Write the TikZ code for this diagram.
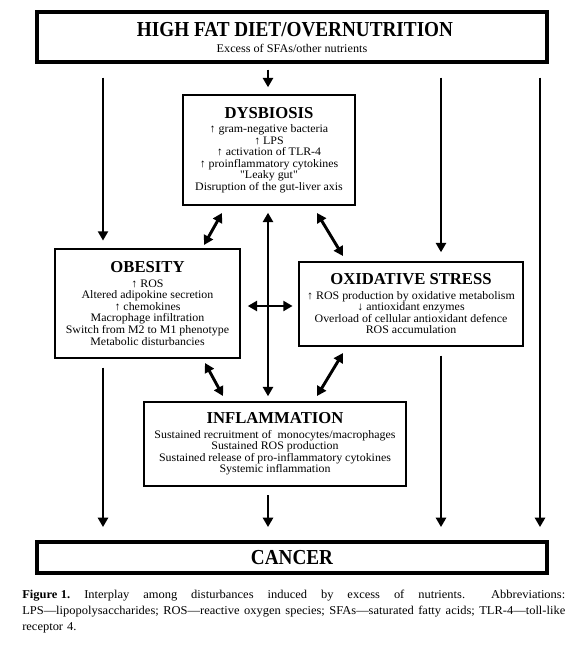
\documentclass[tikz,border=0pt]{standalone}
\usepackage{fontspec}
\setmainfont{Liberation Serif}
\newfontfamily\bodyf{Liberation Serif}[FakeStretch=1.04]
\newfontfamily\titlef{Liberation Serif}[FakeStretch=0.9]
\usetikzlibrary{arrows.meta}
\begin{document}
\begin{tikzpicture}[x=0.75pt,y=-0.75pt,
  bigbox/.style={draw,line width=2.4pt,inner sep=0pt},
  box/.style={draw,line width=1.6pt,inner sep=0pt,align=center,font=\bodyf\fontsize{8.6}{8.7}\selectfont},
  arr/.style={line width=2.2pt,-{Triangle[length=7pt,width=7.5pt]}},
  darr/.style={line width=2.2pt,{Triangle[length=7pt,width=7.5pt]}-{Triangle[length=7pt,width=7.5pt]}}]
\useasboundingbox (0,0) rectangle (585,646);
% top box
\node[bigbox,minimum width=382.5pt,minimum height=37.5pt] (top) at (292,37) {};
\node[font=\titlef\bfseries\fontsize{16}{17}\selectfont] (toptitle) at (295,30) {HIGH FAT DIET/OVERNUTRITION};
\node[font=\bodyf\fontsize{8.8}{9}\selectfont] (topsub) at (292,48) {Excess of SFAs/other nutrients};
% cancer box
\node[bigbox,minimum width=382.5pt,minimum height=23.25pt] (cancer) at (292,557.5) {};
\node[font=\titlef\bfseries\fontsize{16}{17}\selectfont] (cancertitle) at (292,557.5) {CANCER};
% dysbiosis
\node[box,minimum width=129pt,minimum height=82.5pt] (dys) at (269,150)
 {{\rmfamily\fontsize{12.5}{15}\selectfont\bfseries DYSBIOSIS}\\[2pt]
  ↑ gram-negative bacteria\\ ↑ LPS\\ ↑ activation of TLR-4\\
  ↑ proinflammatory cytokines\\ "Leaky gut"\\ Disruption of the gut-liver axis};
% obesity
\node[box,minimum width=138.75pt,minimum height=81.75pt] (obe) at (147.5,303.5)
 {{\rmfamily\fontsize{12.5}{15}\selectfont\bfseries OBESITY}\\[2pt]
  ↑ ROS\\ Altered adipokine secretion\\ ↑ chemokines\\
  Macrophage infiltration\\ Switch from M2 to M1 phenotype\\ Metabolic disturbancies};
% oxidative stress
\node[box,minimum width=168pt,minimum height=63pt] (ox) at (411,304)
 {{\rmfamily\fontsize{12.5}{15}\selectfont\bfseries OXIDATIVE STRESS}\\[2pt]
  ↑ ROS production by oxidative metabolism\\ ↓ antioxidant enzymes\\
  Overload of cellular antioxidant defence\\ ROS accumulation};
% inflammation
\node[box,minimum width=196.5pt,minimum height=63pt] (inf) at (275,444)
 {{\rmfamily\fontsize{12.5}{15}\selectfont\bfseries INFLAMMATION}\\[2pt]
  Sustained recruitment of \ monocytes/macrophages\\ Sustained ROS production\\
  Sustained release of pro-inflammatory cytokines\\ Systemic inflammation};
% columns
\coordinate (cL) at (103,0);
\coordinate (cM) at (268,0);
\coordinate (cR) at (441,0);
\coordinate (cFR) at (540,0);
\coordinate (hy) at (0,306);
% arrows from top
\draw[arr,shorten <=10.5pt,shorten >=5.5pt] (top.south -| cL) -- (obe.north -| cL);
\draw[arr,shorten <=4.5pt,shorten >=5pt] (top.south -| cM) -- (dys.north -| cM);
\draw[arr,shorten <=10.5pt,shorten >=6.5pt] (top.south -| cR) -- (ox.north -| cR);
\draw[arr,shorten <=10.5pt,shorten >=10pt] (top.south -| cFR) -- (cancer.north -| cFR);
% arrows to cancer
\draw[arr,shorten <=6.5pt,shorten >=10pt] (obe.south -| cL) -- (cancer.north -| cL);
\draw[arr,shorten <=6pt,shorten >=10pt] (inf.south -| cM) -- (cancer.north -| cM);
\draw[arr,shorten <=6.5pt,shorten >=10pt] (ox.south -| cR) -- (cancer.north -| cR);
% middle arrows
\draw[darr,shorten <=5pt,shorten >=3.5pt] (dys.south -| cM) -- (inf.north -| cM);
\draw[darr,shorten <=5pt,shorten >=4pt] (obe.east |- hy) -- (ox.west |- hy);
\coordinate (d1) at (222,213); \coordinate (o1) at (204,245);
\draw[darr] (d1) -- (o1);
\coordinate (d2) at (317,213); \coordinate (x1) at (343,256);
\draw[darr] (d2) -- (x1);
\coordinate (o2) at (205,363); \coordinate (i1) at (223,396);
\draw[darr] (o2) -- (i1);
\coordinate (x2) at (343,353); \coordinate (i2) at (317,396);
\draw[darr] (x2) -- (i2);
% caption
\node[anchor=north west,text width=407.25pt,align=left,inner sep=0pt,
      font=\bodyf\fontsize{9}{12}\selectfont] (cap) at (22,590)
 {\makebox[407.25pt][l]{\textbf{Figure\hspace{0.3em}1.}\hfill Interplay\hfill among\hfill disturbances\hfill induced\hfill by\hfill excess\hfill of\hfill nutrients.\hfill\hspace{1em}Abbreviations:}\\
  \makebox[407.25pt][l]{LPS—lipopolysaccharides;\hfill ROS—reactive\hfill oxygen\hfill species;\hfill SFAs—saturated\hfill fatty\hfill acids;\hfill TLR-4—toll-like}\\
  receptor 4.};
\end{tikzpicture}
\end{document}
